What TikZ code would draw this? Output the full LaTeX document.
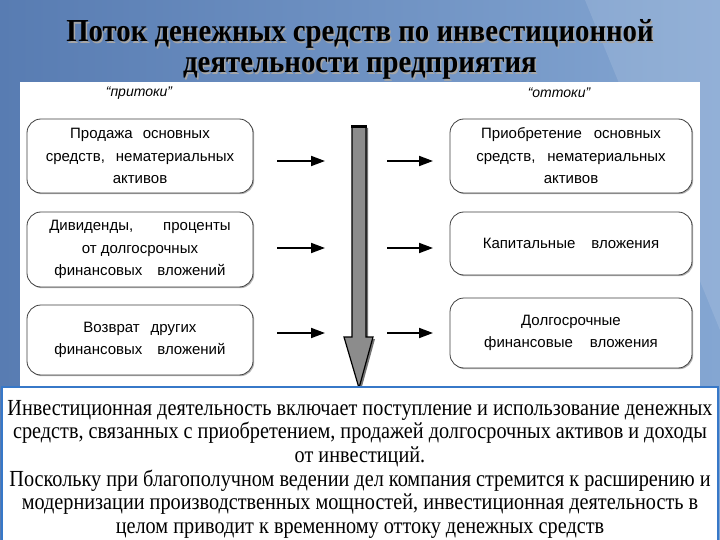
\documentclass[tikz,border=0pt]{standalone}
\usepackage{fontspec}
\setmainfont{Liberation Serif}
\newfontfamily\boxfont{Liberation Sans}
\newfontfamily\titlefont[FakeStretch=0.9]{Liberation Serif}
\newfontfamily\bodyfont[FakeStretch=0.88]{Liberation Serif}
\usetikzlibrary{shadows,arrows.meta}
\definecolor{bgdark}{RGB}{88,124,178}
\definecolor{bglight}{RGB}{132,166,210}
\definecolor{frameblue}{RGB}{55,120,200}
\definecolor{arrowgray}{RGB}{140,140,140}
\begin{document}
\begin{tikzpicture}[x=1pt,y=-1pt,
  boxst/.style={draw=black!75, line width=0.8pt, rounded corners=14pt, fill=white,
    align=center, font=\boxfont\fontsize{15}{22.5}\selectfont, inner sep=0pt,
    drop shadow={shadow xshift=1.2pt, shadow yshift=-1.2pt, fill=black!60, opacity=0.5}},
  lbl/.style={font=\boxfont\itshape\fontsize{14}{16}\selectfont, inner sep=0pt},
  smarrow/.style={line width=1.8pt, -{Triangle[length=14pt,width=10pt]}},
  titletext/.style={font=\titlefont\bfseries\fontsize{32}{34}\selectfont, inner sep=0pt, anchor=base}
]
\useasboundingbox (0,0) rectangle (720,540);
% background
\shade[left color=bgdark, right color=bglight] (0,0) rectangle (720,540);
\fill[white, opacity=0.12] (585,0) -- (720,0) -- (720,330) -- cycle;
% title
\node[titletext, text=black!35] at (361.5,43.5) {Поток денежных средств по инвестиционной};
\node[titletext] (t1) at (360,42) {Поток денежных средств по инвестиционной};
\node[titletext, text=black!35] at (361.5,74.5) {деятельности предприятия};
\node[titletext] (t2) at (360,73) {деятельности предприятия};
% white panel
\fill[white] (20,82) rectangle (700,387);
% labels
\node[lbl] (inl) at (139,93) {“притоки”};
\node[lbl] (outl) at (559,93) {“оттоки”};
% left boxes
\node[boxst, minimum width=226, minimum height=74] (L1) at (140,156)
  {Продажа\hspace{10pt}основных\\средств,\hspace{11pt}нематериальных\\активов};
\node[boxst, minimum width=226, minimum height=75] (L2) at (140,249.5)
  {Дивиденды,\hspace{30pt}проценты\\от\hspace{4pt}долгосрочных\\финансовых\hspace{15pt}вложений};
\node[boxst, minimum width=226, minimum height=70] (L3) at (140,340)
  {Возврат\hspace{11pt}других\\финансовых\hspace{15pt}вложений};
% right boxes
\node[boxst, minimum width=242, minimum height=74] (R1) at (571,156)
  {Приобретение\hspace{12pt}основных\\средств,\hspace{12pt}нематериальных\\активов};
\node[boxst, minimum width=242, minimum height=63] (R2) at (571,243.5)
  {Капитальные\hspace{16pt}вложения};
\node[boxst, minimum width=242, minimum height=70] (R3) at (571,333)
  {Долгосрочные\\финансовые\hspace{17pt}вложения};
% central arrow
\fill[black!55] (354,128) -- (368,128) -- (368,339) -- (375,339) -- (361,390) -- (346,339) -- (354,339) -- cycle;
\draw[fill=arrowgray, line width=1.2pt, line join=miter] (352,126) -- (366,126) -- (366,337) -- (373,337) -- (359,388) -- (344,337) -- (352,337) -- cycle;
\draw[line width=2.5pt] (351.4,126.5) -- (366.6,126.5);
% small arrows
\coordinate (a1s) at (277,161); \coordinate (a1e) at (325,161);
\coordinate (a2s) at (277,248); \coordinate (a2e) at (325,248);
\coordinate (a3s) at (277,333); \coordinate (a3e) at (325,333);
\coordinate (b1s) at (387,161); \coordinate (b1e) at (433,161);
\coordinate (b2s) at (387,248); \coordinate (b2e) at (433,248);
\coordinate (b3s) at (387,333); \coordinate (b3e) at (433,333);
\draw[smarrow] (a1s) -- (a1e);
\draw[smarrow] (a2s) -- (a2e);
\draw[smarrow] (a3s) -- (a3e);
\draw[smarrow] (b1s) -- (b1e);
\draw[smarrow] (b2s) -- (b2e);
\draw[smarrow] (b3s) -- (b3e);
% bottom text box
\draw[draw=frameblue, line width=2pt, fill=white] (2,387) rectangle (718,542);
\node[anchor=north, align=center, inner sep=0pt, font=\bodyfont\fontsize{23}{23.6}\selectfont] (txt) at (360,400)
  {Инвестиционная деятельность включает поступление и использование денежных\\
   средств, связанных с приобретением, продажей долгосрочных активов и доходы\\
   от инвестиций.\\
   Поскольку при благополучном ведении дел компания стремится к расширению и\\
   модернизации производственных мощностей, инвестиционная деятельность в\\
   целом приводит к временному оттоку денежных средств};
\end{tikzpicture}
\end{document}
